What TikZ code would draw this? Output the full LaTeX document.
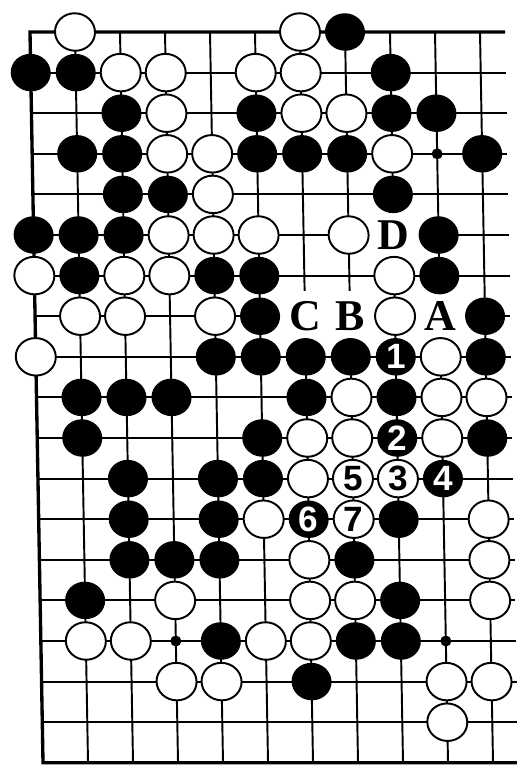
\documentclass[tikz,border=0pt]{standalone}
\usepackage{fontspec}
\usepackage{tikz}
\usetikzlibrary{positioning}
\newfontfamily\digitfont{Liberation Sans}
\newfontfamily\letterfont{Liberation Serif}
\definecolor{ink}{HTML}{000000}

\tikzset{
  gridline/.style={ink,line width=1.1pt},
  edgeline/.style={ink,line width=1.9pt},
  wstone/.style={ink,fill=white,line width=1.1pt},
  onblack/.style={text=white,inner sep=0pt,font=\digitfont\bfseries\fontsize{20}{20}\selectfont},
  onwhite/.style={text=ink,inner sep=0pt,font=\digitfont\bfseries\fontsize{20}{20}\selectfont},
  pointlabel/.style={fill=white,inner sep=0pt,minimum width=1cm,minimum height=1cm,
    font=\letterfont\bfseries\fontsize{25}{25}\selectfont}
}

\begin{document}
\begin{tikzpicture}
  \useasboundingbox (-0.6,0.64) rectangle (9.74,-14.68);
  \begin{scope}[x=0.9cm,y=-0.812cm,xslant=-0.0178]
  \foreach \y in {1,...,17}
    \draw[gridline] (0,\y) -- (10.56,\y);
  \foreach \x in {1,...,10}
    \draw[gridline] (\x,0) -- (\x,18);
  \draw[edgeline] (10.56,0) -- (0,0) -- (0,18) -- (10.6,18);
  \foreach \x/\y in {9/3,3/15,9/15}
    \fill[ink] (\x,\y) circle (0.11cm);
  \node[pointlabel] (lD) at (8,5) {D};
  \node[pointlabel] (lC) at (6,7) {C};
  \node[pointlabel] (lB) at (7,7) {B};
  \node[pointlabel] (lA) at (9,7) {A};
  \foreach \x/\y in {1/0,6/0,2/1,3/1,5/1,6/1,3/2,6/2,7/2,3/3,4/3,8/3,4/4,
                     3/5,4/5,5/5,7/5,0/6,2/6,3/6,8/6,1/7,2/7,4/7,8/7,0/8,9/8,
                     7/9,9/9,10/9,6/10,7/10,9/10,6/11,5/12,10/12,6/13,10/13,
                     3/14,6/14,7/14,10/14,1/15,2/15,5/15,6/15,3/16,4/16,9/16,10/16,9/17}
    \draw[wstone] (\x,\y) ellipse (0.4cm and 0.375cm);
  \foreach \x/\y in {7/0,0/1,1/1,8/1,2/2,5/2,8/2,9/2,1/3,2/3,5/3,6/3,7/3,10/3,
                     2/4,3/4,8/4,0/5,1/5,2/5,9/5,1/6,4/6,5/6,9/6,5/7,10/7,
                     4/8,5/8,6/8,7/8,10/8,1/9,2/9,3/9,6/9,8/9,1/10,5/10,10/10,
                     2/11,4/11,5/11,2/12,4/12,8/12,2/13,3/13,4/13,7/13,1/14,8/14,
                     4/15,7/15,8/15,6/16}
    \fill[ink] (\x,\y) ellipse (0.4cm and 0.375cm);
  \foreach \x/\y/\n in {8/8/1,8/10/2,9/11/4,6/12/6}{
    \fill[ink] (\x,\y) ellipse (0.4cm and 0.375cm);
    \node[onblack] (m\n) at (\x,\y) {\n};}
  \foreach \x/\y/\n in {8/11/3,7/11/5,7/12/7}{
    \draw[wstone] (\x,\y) ellipse (0.4cm and 0.375cm);
    \node[onwhite] (m\n) at (\x,\y) {\n};}
  \end{scope}
\end{tikzpicture}
\end{document}
